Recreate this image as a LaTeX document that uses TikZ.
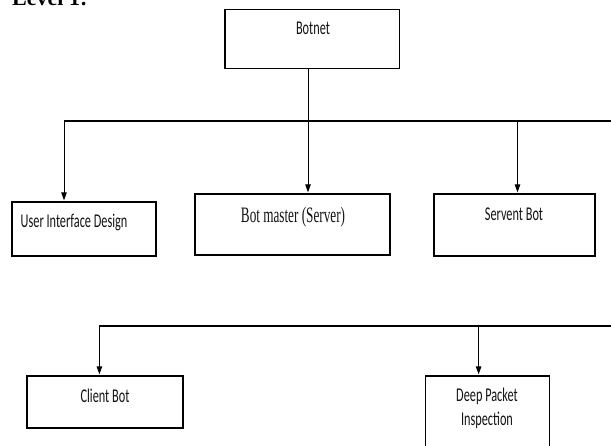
\documentclass[tikz,border=0pt]{standalone}
\usepackage{fontspec}
\usetikzlibrary{arrows.meta}
\newfontfamily\calfont[FakeStretch=0.63]{Carlito}
\newfontfamily\serfont[FakeStretch=0.6]{Liberation Serif}
\newfontfamily\lvlfont{Liberation Serif}
\begin{document}
\begin{tikzpicture}[x=1pt,y=-1pt,
  box/.style={draw=black,line width=1.3pt,fill=white,inner sep=0pt,minimum width=#1},
  txt/.style={inner sep=0pt,font=\calfont\fontsize{19.5}{22}\selectfont,text=black!92},
  sertxt/.style={inner sep=0pt,font=\serfont\fontsize{22}{24}\selectfont,text=black!92},
  bus/.style={line width=1.2pt,black},
  arr/.style={line width=1pt,black,-{Triangle[length=8pt,width=5.5pt]},shorten >=1pt}]
\useasboundingbox (0,0) rectangle (611,446);
\clip (0,0) rectangle (611,446);
\fill[white] (0,0) rectangle (611,446);
% heading
\node[anchor=base west,inner sep=0pt,font=\lvlfont\bfseries\fontsize{22}{24}\selectfont] (lvl) at (12,6) {Level 1:};
% boxes
\node[box=174.5pt,minimum height=59pt] (botnet) at (312.25,38.8) {};
\node[box=144pt,minimum height=54pt] (b1) at (84,229) {};
\node[box=195pt,minimum height=61pt] (b2) at (292.5,224.5) {};
\node[box=161pt,minimum height=62pt] (b3) at (514.5,225) {};
\node[box=156pt,minimum height=52pt] (b4) at (105,402) {};
\node[box=124pt,minimum height=94pt] (b5) at (487.5,423) {};
% texts
\node[txt,anchor=base] (t0) at (313,35) {Botnet};
\node[txt,anchor=base west] (t1) at (20.5,227.5) {User Interface Design};
\node[sertxt,anchor=base] (t2) at (293,222.7) {Bot master (Server)};
\node[txt,anchor=base] (t3) at (514,220.7) {Servent Bot};
\node[txt,anchor=base] (t4) at (105,402.7) {Client Bot};
\node[txt,anchor=base] (t5a) at (487,401.5) {Deep Packet};
\node[txt,anchor=base] (t5b) at (487,425.5) {Inspection};
% bus 1
\coordinate (j1) at (308,121);
\coordinate (l1) at (64,121);
\coordinate (k1) at (517.5,121);
\coordinate (r1) at (615,121);
\draw[line width=1pt] (j1 |- botnet.south) -- (j1);
\draw[bus] (l1) -- (r1);
\draw[arr] (l1) -- (l1 |- b1.north);
\draw[arr] (j1) -- (j1 |- b2.north);
\draw[arr] (k1) -- (k1 |- b3.north);
% bus 2
\coordinate (l2) at (99.4,326);
\coordinate (k2) at (478.6,326);
\coordinate (r2) at (615,326);
\draw[bus] (l2) -- (r2);
\draw[arr] (l2) -- (l2 |- b4.north);
\draw[arr] (k2) -- (k2 |- b5.north);
\end{tikzpicture}
\end{document}
